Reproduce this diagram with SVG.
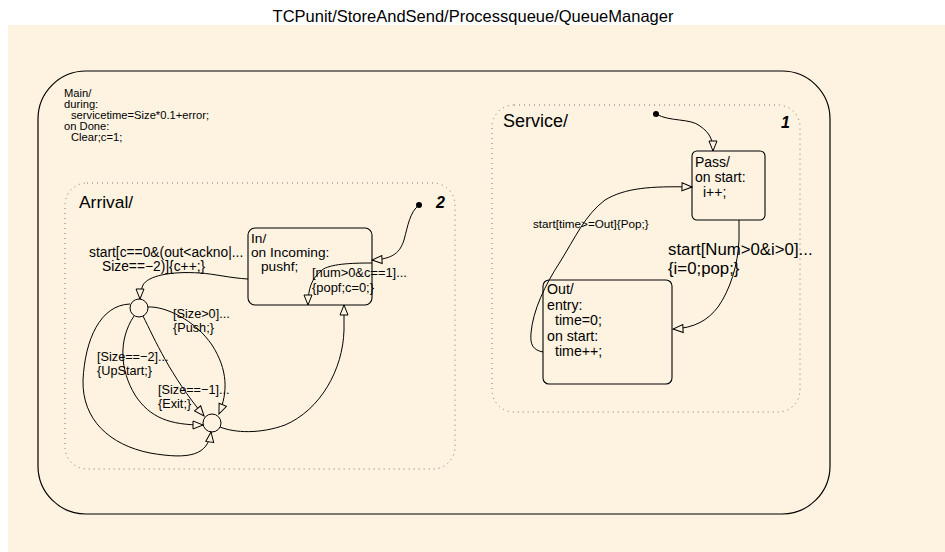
<svg xmlns="http://www.w3.org/2000/svg" width="945" height="552" viewBox="0 0 945 552">
<defs>
<marker id="arr" viewBox="-11 -5 12 10" refX="0" refY="0" markerWidth="12" markerHeight="10" markerUnits="userSpaceOnUse" orient="auto">
<path d="M0,0 L-10,-4 L-10,4 Z" fill="#fdf3e0" stroke="#000" stroke-width="1"/>
</marker>
</defs>
<style>
text{font-family:"Liberation Sans",Arial,Helvetica,sans-serif;fill:#000}
.st{fill:none;stroke:#000;stroke-width:1.2}
.box{fill:none;stroke:#000;stroke-width:1.1}
.dotb{fill:none;stroke:#777;stroke-width:1;stroke-dasharray:1 4}
.c{fill:none;stroke:#000;stroke-width:1;marker-end:url(#arr)}
.j{fill:#fdf3e0;stroke:#000;stroke-width:1}
.bi{font-weight:bold;font-style:italic}
</style>
<rect x="0" y="0" width="945" height="552" fill="#ffffff"/>
<rect x="8" y="25" width="937" height="527" fill="#fdf3e0"/>
<text x="473" y="22" font-size="16.5" text-anchor="middle">TCPunit/StoreAndSend/Processqueue/QueueManager</text>

<g id="Main">
<rect class="st" x="38" y="71" width="792" height="443" rx="48"/>
<text font-size="11.2"><tspan x="64" y="97">Main/</tspan><tspan x="64" y="108">during:</tspan><tspan x="71" y="119">servicetime=Size*0.1+error;</tspan><tspan x="64" y="130">on Done:</tspan><tspan x="71" y="141">Clear;c=1;</tspan></text>
</g>

<g id="Arrival">
<rect class="dotb" x="65" y="183" width="390" height="286" rx="22"/>
<text x="79" y="208" font-size="17.4">Arrival/</text>
<text x="436" y="208" font-size="16" class="bi">2</text>
<circle cx="419" cy="205" r="3" fill="#000"/>
</g>

<g id="In">
<rect class="box" x="248" y="228" width="124" height="77" rx="7"/>
<text font-size="13.7"><tspan x="251" y="243">In/</tspan><tspan x="251" y="257">on Incoming:</tspan><tspan x="261" y="271">pushf;</tspan></text>
</g>

<g id="J1"><circle class="j" cx="139" cy="308" r="9"/></g>
<g id="J2"><circle class="j" cx="212" cy="423" r="9"/></g>

<g id="Service">
<rect class="dotb" x="492" y="105" width="308" height="307" rx="22"/>
<text x="503" y="127" font-size="18">Service/</text>
<text x="781" y="128" font-size="16" class="bi">1</text>
<circle cx="656" cy="114" r="3" fill="#000"/>
</g>

<g id="Pass">
<rect class="box" x="692" y="151" width="73" height="69" rx="5"/>
<text font-size="14"><tspan x="695" y="167">Pass/</tspan><tspan x="695" y="182">on start:</tspan><tspan x="703" y="197">i++;</tspan></text>
</g>

<g id="Out">
<rect class="box" x="543" y="280" width="129" height="104" rx="6"/>
<text font-size="14.2"><tspan x="547" y="294">Out/</tspan><tspan x="547" y="310">entry:</tspan><tspan x="555" y="325">time=0;</tspan><tspan x="547" y="341">on start:</tspan><tspan x="555" y="356">time++;</tspan></text>
</g>

<g id="connectors">
<path class="c" d="M419,205 C410,212 408,225 404,240 C400,252 394,259 372,260"/>
<path class="c" d="M248,279 C230,278 215,274 200,273 C170,271 148,276 143,285 C141,290 140,294 140,299"/>
<path class="c" d="M372,263 C350,263 330,264 322,270 C312,278 308,288 308,305"/>
<path class="c" d="M220,427 C235,433 260,434 285,425 C320,410 343,370 344,330 L344,305"/>
<path class="c" d="M148,307 C165,306 195,320 212,345 C228,370 228,392 219,414"/>
<path class="c" d="M143,316 C155,340 170,375 204,416"/>
<path class="c" d="M134,316 C118,340 120,370 135,395 C150,418 170,425 203,425"/>
<path class="c" d="M130,304 C100,305 85,340 83,380 C82,420 110,445 150,453 C190,460 208,455 211,432"/>
<path class="c" d="M656,114 C670,122 690,118 700,126 C710,133 713,140 713,151"/>
<path class="c" d="M739,220 L739,240 C738,265 730,290 718,307 C708,320 695,328 673,329"/>
<path class="c" d="M543,352 C533,350 530,345 531,333 C533,310 545,285 560,262 C575,238 585,215 605,200 C625,188 650,186 692,187"/>
</g>

<g id="labels">
<text font-size="13.8"><tspan x="89" y="257">start[c==0&amp;(out&lt;ackno|...</tspan><tspan x="102" y="271">Size==−2)]{c++;}</tspan></text>
<text font-size="12.9"><tspan x="312" y="277">[num&gt;0&amp;c==1]...</tspan><tspan x="312" y="292">{popf;c=0;}</tspan></text>
<text font-size="12.7"><tspan x="173" y="318">[Size&gt;0]...</tspan><tspan x="173" y="332">{Push;}</tspan></text>
<text font-size="12.7"><tspan x="97" y="361">[Size==−2]...</tspan><tspan x="97" y="375">{UpStart;}</tspan></text>
<text font-size="12.7"><tspan x="158" y="394">[Size==−1]...</tspan><tspan x="158" y="408">{Exit;}</tspan></text>
<text x="533" y="228" font-size="11.7">start[time&gt;=Out]{Pop;}</text>
<text font-size="16.8"><tspan x="668" y="255">start[Num&gt;0&amp;i&gt;0]...</tspan><tspan x="668" y="274">{i=0;pop;}</tspan></text>
</g>
</svg>
